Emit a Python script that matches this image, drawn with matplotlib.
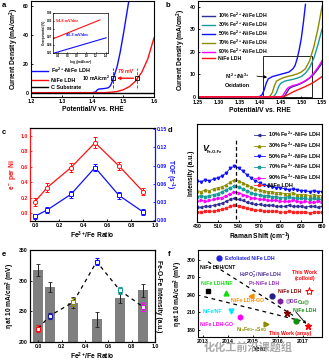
import matplotlib
matplotlib.use('Agg')
from matplotlib import pyplot as plt
from matplotlib.patches import Rectangle

W, H = 329, 363

# ---------------- panel a : LSV curves
A_BLUE_V = [1.20, 1.40, 1.41, 1.415, 1.42, 1.43, 1.44, 1.45, 1.455, 1.46,
            1.465, 1.47, 1.48, 1.49, 1.50, 1.51, 1.52]
A_BLUE_J = [0, 0, 0.5, 1.8, 2.5, 2.7, 2.9, 3.3, 4.0, 5.5,
            8.2, 11.5, 18, 28, 40, 53, 66]
A_RED_V = [1.20, 1.44, 1.46, 1.48, 1.50, 1.52, 1.54, 1.546, 1.56, 1.58, 1.60]
A_RED_J = [0, 0, 0.3, 0.8, 2.0, 4.2, 8.0, 10.0, 14.0, 23.5, 38.0]
A_C_V = [1.20, 1.60]
A_C_J = [0, 0]
A_MARK_V = [1.467, 1.546]
A_MARK_J = [10, 10]
# inset Tafel
TAF_RED_X = [0.31, 1.28]
TAF_RED_Y = [0.264, 0.334]
TAF_BLUE_X = [0.33, 1.41]
TAF_BLUE_Y = [0.210, 0.267]

# ---------------- panel b : LSV of different Fe2+ ratios
B_LABELS = ['10% Fe$^{2+}$-NiFe LDH', '30% Fe$^{2+}$-NiFe LDH',
            '50% Fe$^{2+}$-NiFe LDH', '70% Fe$^{2+}$-NiFe LDH',
            '90% Fe$^{2+}$-NiFe LDH', 'NiFe LDH']
B_V = [
    [1.25, 1.455, 1.46, 1.465, 1.47, 1.475, 1.48, 1.49, 1.50, 1.51, 1.52, 1.53, 1.54, 1.55],
    [1.25, 1.43, 1.435, 1.44, 1.445, 1.45, 1.46, 1.47, 1.48, 1.49, 1.50, 1.51, 1.52, 1.53, 1.54, 1.55],
    [1.25, 1.39, 1.40, 1.405, 1.41, 1.415, 1.42, 1.43, 1.44, 1.45, 1.46, 1.47, 1.48, 1.485, 1.49, 1.495, 1.50, 1.505, 1.51],
    [1.25, 1.42, 1.425, 1.43, 1.435, 1.44, 1.45, 1.46, 1.47, 1.48, 1.49, 1.50, 1.51, 1.52, 1.53, 1.54, 1.55],
    [1.25, 1.45, 1.455, 1.46, 1.465, 1.47, 1.48, 1.49, 1.50, 1.51, 1.52, 1.53, 1.54, 1.55],
    [1.25, 1.455, 1.46, 1.47, 1.48, 1.49, 1.50, 1.51, 1.52, 1.53, 1.54, 1.55],
]
B_J = [
    [0, 0, 0.5, 2.0, 3.5, 4.2, 4.6, 5.2, 6.0, 7.0, 8.3, 10.0, 12.3, 15.0],
    [0, 0, 0.5, 2.0, 4.5, 6.0, 7.0, 7.4, 7.8, 8.3, 9.0, 10.5, 13.0, 17.0, 23.0, 30.0],
    [0, 0, 0.2, 1.0, 3.0, 6.0, 8.0, 9.0, 9.5, 10.0, 10.5, 11.0, 12.5, 14.0, 17.0, 21.0, 26.0, 33.0, 41.0],
    [0, 0, 0.5, 2.0, 5.0, 7.0, 8.0, 8.7, 9.2, 9.6, 10.2, 11.0, 12.5, 16.0, 22.0, 30.0, 40.0],
    [0, 0, 0.5, 2.0, 3.5, 4.3, 5.0, 5.5, 6.2, 7.2, 8.5, 10.5, 13.0, 16.0],
    [0, 0, 0.3, 1.2, 2.2, 3.0, 3.8, 4.6, 5.5, 6.5, 7.7, 9.0],
]
B_COLORS = ['#2e2e96', '#1a9a9a', '#1010ff', '#8c8c00', '#ff00ff', '#ff1010']

# ---------------- panel c : e- per Ni and TOF
C_RATIO = [0.0, 0.1, 0.3, 0.5, 0.7, 0.9]
C_ELEC = [0.15, 0.33, 0.59, 0.91, 0.61, 0.28]
C_ELEC_ERR = [0.05, 0.06, 0.06, 0.07, 0.05, 0.05]
C_TOF = [0.007, 0.017, 0.043, 0.087, 0.041, 0.014]
C_TOF_ERR = [0.004, 0.005, 0.006, 0.006, 0.005, 0.005]

# ---------------- panel d : Raman spectra
D_SHIFT = list(range(480, 661, 6))
D_LABELS = B_LABELS
D_SPECTRA = [
    [15, 15, 16, 16, 17, 18, 19, 21, 23, 24, 23, 22, 20, 19, 18, 18, 17, 17, 17, 16, 16, 16, 17, 16, 16, 16, 15, 16, 16, 15, 16],
    [32, 31, 33, 32, 34, 35, 36, 38, 41, 43, 42, 40, 38, 36, 34, 33, 32, 31, 31, 30, 30, 29, 29, 30, 28, 28, 28, 27, 28, 27, 27],
    [42, 41, 43, 42, 44, 45, 47, 50, 55, 57, 55, 52, 48, 45, 42, 40, 38, 37, 36, 35, 35, 34, 33, 34, 33, 32, 32, 31, 32, 31, 31],
    [26, 27, 26, 27, 28, 29, 31, 33, 35, 37, 36, 34, 32, 30, 29, 28, 27, 27, 26, 26, 25, 25, 26, 25, 24, 24, 24, 23, 24, 23, 23],
    [21, 22, 21, 22, 23, 24, 25, 27, 29, 31, 30, 28, 27, 25, 24, 23, 23, 22, 22, 22, 21, 21, 21, 22, 21, 20, 21, 20, 20, 21, 20],
    [10, 10, 11, 11, 11, 12, 13, 14, 16, 17, 16, 15, 14, 13, 12, 12, 11, 11, 11, 11, 10, 10, 11, 10, 10, 10, 10, 9, 10, 10, 10],
]
D_COLORS = ['#2e2e96', '#8c8c00', '#1010ff', '#1a9a9a', '#ff00ff', '#ff2020']
D_MARKERS = ['<', '^', 'v', 'o', '>', 's']
PEAK_SHIFT = 536

# ---------------- panel e : overpotential vs Fe-O-Fe intensity
E_RATIO = [0.0, 0.1, 0.3, 0.5, 0.7, 0.9]
E_ETA = [317, 290, 264, 237, 272, 284]
E_ETA_ERR = [10, 8, 9, 12, 8, 10]
E_INT = [222, 243, 265, 331, 284, 257]
E_INT_ERR = [5, 5, 6, 6, 5, 6]
E_COLORS = ['#ff1010', '#1a1aa0', '#8c8c00', '#1010ff', '#1a9a9a', '#ff00ff']

# ---------------- panel f : literature comparison
F_YEAR = [2013.2, 2013.93, 2013.64, 2014.9, 2014.13, 2014.47, 2015.76,
          2016.09, 2016.37, 2016.7, 2015.53, 2017.24, 2017.2]
F_ETA = [246, 244, 303, 238, 213, 202, 238, 229, 209, 195, 191, 247, 187]
F_MARKERS = ['s', '^', 'o', '<', 'v', 'h', 'o', 'h', '*', 'o', '>', '*', '*']
F_COLORS = ['#000000', '#10dd10', '#2020e0', '#ff8c00', '#00e5ff', '#ff00ff',
            '#20208a', '#7a1f9a', '#800000', '#109010', '#8c8c00', '#ff0000',
            '#ff0000']
F_TREND_UP_X = [2013.2, 2016.6]
F_TREND_UP_Y = [297, 205]
F_TREND_LO_X = [2013.05, 2016.9]
F_TREND_LO_Y = [237, 196]

plt.rcParams['font.family'] = ['Liberation Sans', 'DejaVu Sans']
plt.rcParams['font.weight'] = 'bold'
plt.rcParams['axes.labelweight'] = 'bold'
plt.rcParams['mathtext.fontset'] = 'custom'
plt.rcParams['mathtext.rm'] = 'Liberation Sans:bold'
plt.rcParams['mathtext.it'] = 'Liberation Sans:bold:italic'
plt.rcParams['mathtext.bf'] = 'Liberation Sans:bold'
plt.rcParams['axes.linewidth'] = 0.8
plt.rcParams['xtick.direction'] = 'in'
plt.rcParams['ytick.direction'] = 'in'
plt.rcParams['xtick.major.size'] = 1.5
plt.rcParams['ytick.major.size'] = 1.5
plt.rcParams['xtick.major.width'] = 0.6
plt.rcParams['ytick.major.width'] = 0.6
plt.rcParams['xtick.major.pad'] = 1.5
plt.rcParams['ytick.major.pad'] = 1.5
plt.rcParams['xtick.labelsize'] = 3.7
plt.rcParams['ytick.labelsize'] = 3.7
plt.rcParams['axes.labelsize'] = 4.8
plt.rcParams['axes.labelpad'] = 1.5

fig = plt.figure(figsize=(W / 100, H / 100), dpi=100)


def px_axes(l, t, r, b):
    return fig.add_axes([l / W, 1 - b / H, (r - l) / W, (b - t) / H])


def panel_label(x, y, s):
    fig.text(x / W, 1 - y / H, s, fontsize=5.5, fontweight='bold', va='top')


# ---- a
ax = px_axes(31, 1, 154, 97)
ax.plot(A_BLUE_V, A_BLUE_J, color='#1010ff', lw=1.0, label='Fe$^{2+}$-NiFe LDH')
ax.plot(A_RED_V, A_RED_J, color='#ff1010', lw=1.0, label='NiFe LDH')
ax.plot(A_C_V, A_C_J, color='k', lw=1.0, label='C Substrate')
ax.vlines(A_MARK_V, 3, 17, colors=['#1010ff', '#ff1010'], linestyles='--', lw=0.6)
ax.plot(A_MARK_V, A_MARK_J, 's', mfc='none', mec='k', ms=3, mew=0.6)
ax.annotate('', xy=(A_MARK_V[0] + 0.004, 10), xytext=(A_MARK_V[1] - 0.004, 10),
            arrowprops=dict(arrowstyle='-|>', color='#ff1010', lw=1.0,
                            mutation_scale=4))
ax.text(1.508, 14.4, '79 mV', color='#ff1010', fontsize=3.7, ha='center', va='center')
ax.text(1.365, 9.8, '10 mA/cm$^2$', color='k', fontsize=3.7, va='center')
ax.set_xlim(1.2, 1.6)
ax.set_ylim(-3, 63.5)
ax.set_xticks([1.2, 1.3, 1.4, 1.5, 1.6])
ax.set_yticks([0, 20, 40, 60])
ax.set_xlabel('Potential/V vs. RHE')
ax.set_ylabel('Current Density (mA/cm$^2$)')
ax.legend(loc='lower left', bbox_to_anchor=(0.01, 0.07), frameon=False,
          fontsize=3.9, handlelength=3.0, labelspacing=0.5, borderpad=0,
          borderaxespad=0, handletextpad=0.5)
panel_label(2, 2, 'a')

ins = px_axes(53, 13, 108, 53)
ins.plot(TAF_RED_X, TAF_RED_Y, color='#ff1010', lw=0.8)
ins.plot(TAF_BLUE_X, TAF_BLUE_Y, color='#1010ff', lw=0.8)
ins.text(0.36, 0.326, '54.8 mV/dec', color='#ff1010', fontsize=2.8)
ins.text(0.58, 0.272, '40.3 mV/dec', color='#1010ff', fontsize=2.8)
ins.set_xlim(0.3, 1.45)
ins.set_ylim(0.21, 0.36)
ins.set_xticks([0.4, 0.6, 0.8, 1.0, 1.2, 1.4])
ins.set_yticks([0.21, 0.24, 0.27, 0.30, 0.33, 0.36])
ins.tick_params(labelsize=2.0, length=0.8, pad=0.8)
ins.set_xlabel('Log $j$ (mA/cm$^2$)', fontsize=2.2, labelpad=0.5)
ins.set_ylabel('Overpotential (V)', fontsize=2.2, labelpad=0.5)
for s in ins.spines.values():
    s.set_linewidth(0.5)

# ---- b
ax = px_axes(198, 1, 322, 98)
for v, j, c, lab in zip(B_V, B_J, B_COLORS, B_LABELS):
    ax.plot(v, j, color=c, lw=1.0, label=lab)
ax.add_patch(Rectangle((1.408, 0), 0.118, 18, fill=False, ec='k', lw=0.6))
ax.text(1.345, 7.5, 'Ni$^{2+}$/Ni$^{3+}$\nOxidation', fontsize=3.9,
        ha='center', va='center', linespacing=1.6)
ax.annotate('', xy=(1.424, 8.6), xytext=(1.386, 9.3),
            arrowprops=dict(arrowstyle='-|>', color='k', lw=0.6, mutation_scale=4))
ax.set_xlim(1.25, 1.55)
ax.set_ylim(-0.5, 42.5)
ax.set_xticks([1.25, 1.30, 1.35, 1.40, 1.45, 1.50, 1.55])
ax.set_yticks([0, 10, 20, 30, 40])
ax.set_xlabel('Potential/V vs. RHE')
ax.set_ylabel('Current Density (mA/cm$^2$)')
ax.legend(loc='upper left', bbox_to_anchor=(0.03, 0.90), frameon=False,
          fontsize=3.7, handlelength=2.5, labelspacing=-0.05, borderpad=0,
          borderaxespad=0, handletextpad=0.6)
panel_label(166, 2, 'b')

# ---- c
ax = px_axes(30, 128, 155, 221)
ax.errorbar(C_RATIO, C_ELEC, yerr=C_ELEC_ERR, color='#ff1010', marker='o',
            mfc='white', ms=3, mew=0.7, lw=0.9, elinewidth=0.7, capsize=1.5,
            capthick=0.6)
ax.set_xlim(-0.042, 1.0)
ax.set_ylim(-0.1, 1.1)
ax.set_xticks([0.0, 0.2, 0.4, 0.6, 0.8, 1.0])
ax.set_yticks([0.0, 0.2, 0.4, 0.6, 0.8, 1.0])
ax.set_xlabel('Fe$^{3+}$/Fe Ratio')
ax.set_ylabel('e$^-$ per Ni', color='#ff1010')
ax.tick_params(axis='y', colors='#ff1010')
ax2 = ax.twinx()
ax2.errorbar(C_RATIO, C_TOF, yerr=C_TOF_ERR, color='#1010ff', marker='s',
             mfc='white', ms=3, mew=0.7, lw=0.9, elinewidth=0.7, capsize=1.5,
             capthick=0.6)
ax2.set_ylim(-0.001, 0.152)
ax2.set_yticks([0.00, 0.03, 0.06, 0.09, 0.12, 0.15])
ax2.set_yticklabels(['0.00', '0.03', '0.06', '0.09', '0.12', '0.15'])
ax2.tick_params(axis='y', colors='#1010ff')
ax2.set_ylabel('TOF (s$^{-1}$)', color='#1010ff', rotation=270, labelpad=6.5)
for a_ in (ax, ax2):
    a_.spines['left'].set_color('#ff1010')
    a_.spines['right'].set_color('#1010ff')
panel_label(2, 129, 'c')

# ---- d
ax = px_axes(197, 124, 322, 222)
for spec, c, m, lab in zip(D_SPECTRA, D_COLORS, D_MARKERS, D_LABELS):
    ax.plot(D_SHIFT, spec, color=c, marker=m, ms=1.8, lw=0.6, label=lab)
ax.plot([PEAK_SHIFT, PEAK_SHIFT], [3, 85], 'k--', lw=0.9, dashes=(3, 2))
ax.text(487, 75, 'V', style='italic', fontsize=6.5, va='center')
ax.text(494, 71, 'Fe-O-Fe', fontsize=3.0, va='center')
ax.set_xlim(480, 660)
ax.set_ylim(0, 100)
ax.set_xticks(list(range(480, 661, 30)))
ax.set_yticks([])
ax.set_xlabel('Raman Shift (cm$^{-1}$)')
ax.set_ylabel('Intensity (a.u.)')
ax.legend(loc='upper right', bbox_to_anchor=(0.99, 0.94), frameon=False,
          fontsize=4.0, handlelength=2.0, labelspacing=0.25, borderpad=0,
          borderaxespad=0, handletextpad=0.5)
panel_label(168, 127, 'd')

# ---- e
ax = px_axes(30, 250, 155, 342)
ax.bar(E_RATIO, E_ETA, width=0.088, color='#7f7f7f', yerr=E_ETA_ERR,
       error_kw=dict(ecolor='#202020', elinewidth=0.7, capsize=1.5, capthick=0.6))
ax.set_xlim(-0.071, 1.0)
ax.set_ylim(200, 350)
ax.set_xticks([0.0, 0.2, 0.4, 0.6, 0.8, 1.0])
ax.set_yticks([200, 250, 300, 350])
ax.set_xlabel('Fe$^{2+}$/Fe Ratio')
ax.set_ylabel('η at 10 mA/cm$^2$ (mV)')
ax2 = ax.twinx()
ax2.plot(E_RATIO, E_INT, 'k--', lw=0.9, dashes=(3, 3))
for x, y, e, c in zip(E_RATIO, E_INT, E_INT_ERR, E_COLORS):
    ax2.errorbar([x], [y], yerr=[e], color=c, marker='s', mfc='white', ms=3,
                 mew=0.8, elinewidth=0.8, capsize=1.5, capthick=0.8)
ax2.set_ylim(200, 350)
ax2.set_yticks([])
ax2.set_ylabel('Fe-O-Fe Intensity (a.u.)', rotation=270, labelpad=5)
panel_label(2, 251, 'e')

# ---- f
ax = px_axes(198, 250, 322, 337)
ax.plot(F_TREND_UP_X, F_TREND_UP_Y, 'k--', lw=0.9, dashes=(3, 3))
ax.plot(F_TREND_LO_X, F_TREND_LO_Y, 'k--', lw=0.9, dashes=(3, 3))
ax.annotate('', xy=(F_YEAR[-1], F_ETA[-1]), xytext=(2016.65, 214),
            arrowprops=dict(arrowstyle='-|>', color='k', lw=0.6, mutation_scale=4))
for i, (x, y, m, c) in enumerate(zip(F_YEAR, F_ETA, F_MARKERS, F_COLORS)):
    ms = 5 if m == '*' else 3.5
    if i == len(F_YEAR) - 2:
        ax.plot(x, y, marker=m, ms=6, mfc='white', mec=c, mew=0.7, ls='none')
    else:
        ax.plot(x, y, marker=m, ms=ms, color=c, ls='none')
fs = 3.7
ax.text(2013.87, 303, 'Exfoliated NiFe LDH', color='#2020e0', fontsize=fs, va='center')
ax.text(2012.87, 287, 'NiFe LDH/CNT', color='k', fontsize=fs, va='center')
ax.text(2014.43, 274, 'H$_2$PO$_2^-$/NiFe LDH', color='#4a2a9a', fontsize=fs, va='center')
ax.text(2014.84, 260, 'Pt-NiFe LDH', color='#9030b0', fontsize=fs, va='center')
ax.text(2012.91, 259, 'NiFe LDH/NF', color='#10dd10', fontsize=fs, va='center')
ax.text(2014.13, 230, 'NiFe LDH-GO', color='#ff8c00', fontsize=fs, va='center')
ax.text(2012.97, 211, 'NiFe/NF', color='#00e5ff', fontsize=fs, va='center')
ax.text(2012.87, 190, 'NiFe LDH-GO', color='#ff00ff', fontsize=fs, va='center')
ax.text(2014.33, 181, 'Ni$_x$Fe$_{1-x}$Se$_2$', color='#8c8c00', fontsize=fs, va='center')
ax.text(2015.63, 174, 'This Work (array)', color='#ff0000', fontsize=fs, va='center')
ax.text(2017.07, 274, 'This Work\n(colloid)', color='#ff0000', fontsize=fs,
        ha='center', va='center', linespacing=1.3)
ax.text(2016.0, 246, 'NiFe LDH', color='#800000', fontsize=fs, va='center')
ax.text(2016.29, 230, '@DG', color='#7a1f9a', fontsize=fs, va='center')
ax.text(2016.8, 229, 'Cu@', color='#109010', fontsize=fs, va='center')
ax.text(2016.6, 212.6, 'NiFe LDH', color='#109010', fontsize=fs, va='center')
ax.set_xlim(2012.8, 2017.76)
ax.set_ylim(168, 317)
ax.set_xticks([2013, 2014, 2015, 2016, 2017])
ax.set_yticks([180, 210, 240, 270, 300])
ax.set_xlabel('Year')
ax.set_ylabel('η at 10 mA/cm$^2$ (mV)')
panel_label(168, 251, 'f')

fig.text(0.62, 1 - 347 / H, '化化工前沿课题组', family=['Noto Sans CJK SC', 'DejaVu Sans'],
         color='#9a9a9a', alpha=0.85, fontsize=8, va='center', ha='left')

fig.savefig('out.png', dpi=100)
